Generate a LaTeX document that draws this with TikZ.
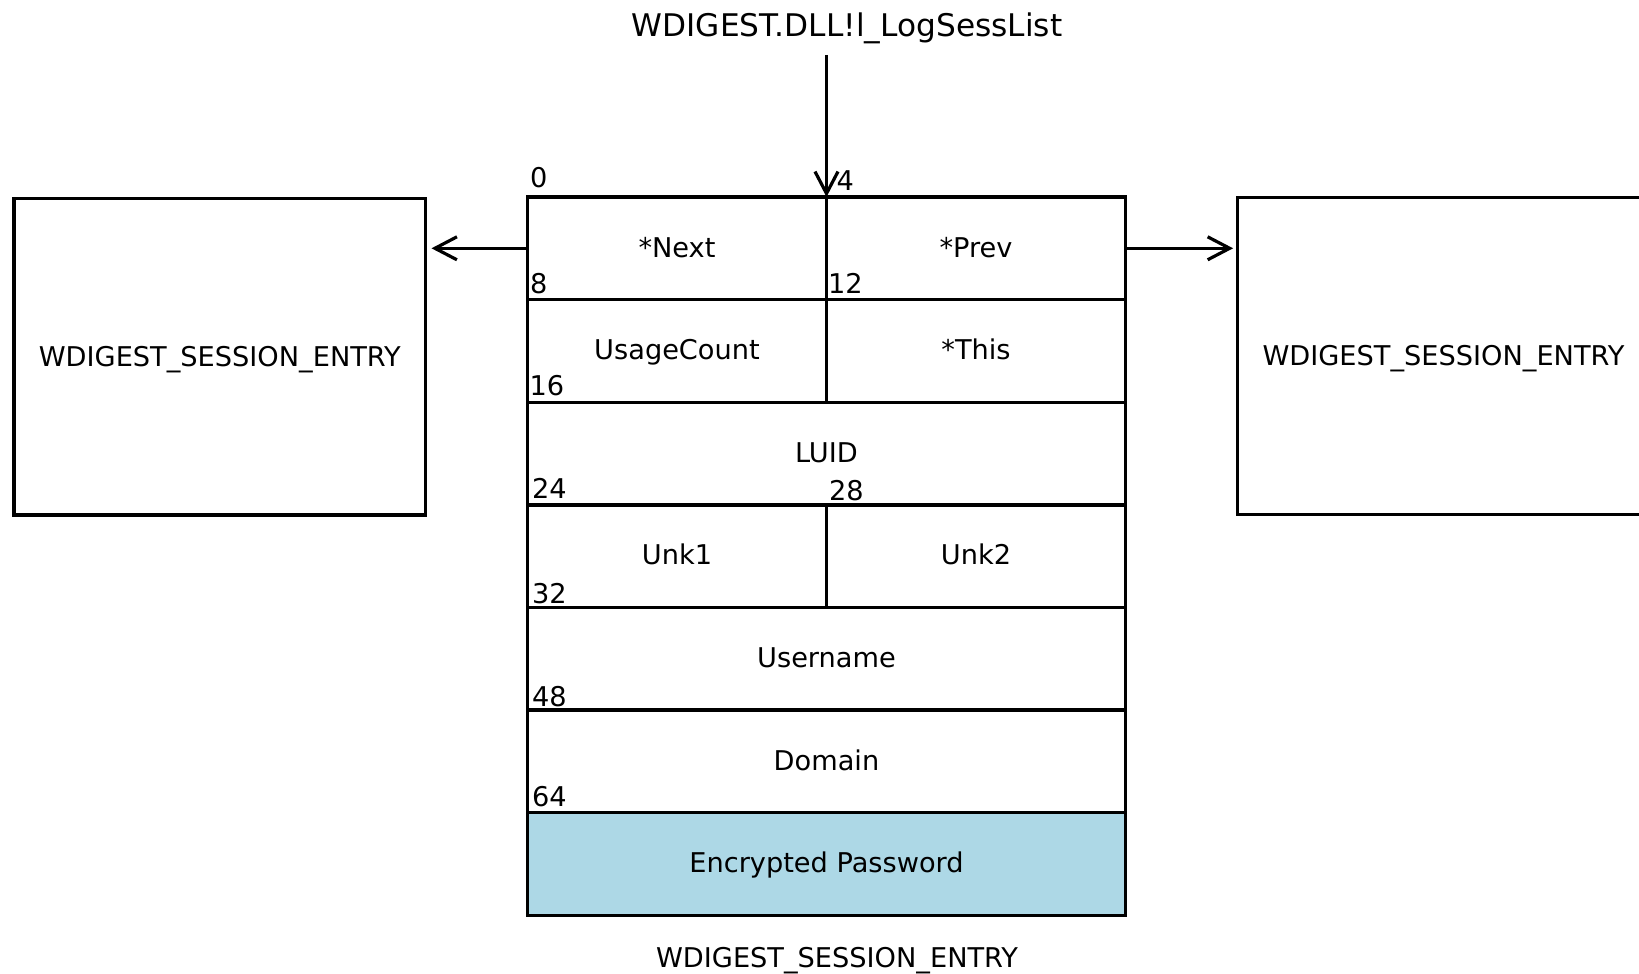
\documentclass[tikz,border=0pt]{standalone}
\usepackage{fontspec}
\setmainfont{DejaVu Sans}
\usetikzlibrary{arrows.meta}
\definecolor{paleblue}{RGB}{173,216,230}
\begin{document}
\begin{tikzpicture}[x=0.5pt, y=-0.5pt,
  every node/.style={inner sep=0pt, outer sep=0pt},
  txt/.style={font=\fontsize{13.6}{16}\selectfont},
  frame/.style={draw=black, line width=1.7pt},
  cell/.style={frame, txt, minimum height=51.3pt, text height=0.88em, text depth=0pt},
  half/.style={cell, minimum width=149.5pt},
  whole/.style={cell, minimum width=299pt},
  entry/.style={frame, txt, minimum width=205.75pt, minimum height=158.35pt, text height=0.98em, text depth=0pt},
  offs/.style={txt, anchor=base west},
  ptr/.style={line width=1.6pt, -{Straight Barb[length=11pt, width=11.5pt]}},
]
\useasboundingbox (0,0) rectangle (1639,974);
\clip (0,0) rectangle (1639,974);

% list head
\node[font=\fontsize{15.6}{18}\selectfont, anchor=base] (title) at (847,37) {WDIGEST.DLL!l\_LogSessList};
\coordinate (head) at (826.5,55);

% structure layout, one row per field
\node[half] (next) at (677,248.3) {*Next};
\node[half] (prev) at (976,248.3) {*Prev};
\node[half] (usage) at (677,350.9) {UsageCount};
\node[half] (this) at (976,350.9) {*This};
\node[whole] (luid) at (826.5,453.5) {LUID};
\node[half] (unka) at (677,556.1) {Unk1};
\node[half] (unkb) at (976,556.1) {Unk2};
\node[whole] (user) at (826.5,658.7) {Username};
\node[whole] (domain) at (826.5,761.3) {Domain};
\node[whole, fill=paleblue] (pwd) at (826.5,863.9) {Encrypted Password};

\node[txt, anchor=base] (caption) at (837,967) {WDIGEST\_SESSION\_ENTRY};

% neighbouring entries in the list
\node[entry] (lefte) at (219.75,356.65) {WDIGEST\_SESSION\_ENTRY};
\node[entry] (righte) at (1443.45,355.95) {WDIGEST\_SESSION\_ENTRY};

% field offsets
\node[offs] (o0) at (530,187) {0};
\node[offs] (o4) at (836.5,191) {4};
\node[offs] (o8) at (530,293) {8};
\node[offs] (o12) at (828,293) {12};
\node[offs] (o16) at (529.5,395) {16};
\node[offs] (o24) at (532,498.5) {24};
\node[offs] (o28) at (829,500.5) {28};
\node[offs] (o32) at (532,603) {32};
\node[offs] (o48) at (532,706) {48};
\node[offs] (o64) at (532,806) {64};

% links
\draw[ptr] (head) -- (next.north east);
\draw[ptr, shorten >=3pt] (next.west) -- (next.west -| lefte.east);
\draw[ptr, shorten >=2.3pt] (prev.east) -- (prev.east -| righte.west);
\end{tikzpicture}
\end{document}
